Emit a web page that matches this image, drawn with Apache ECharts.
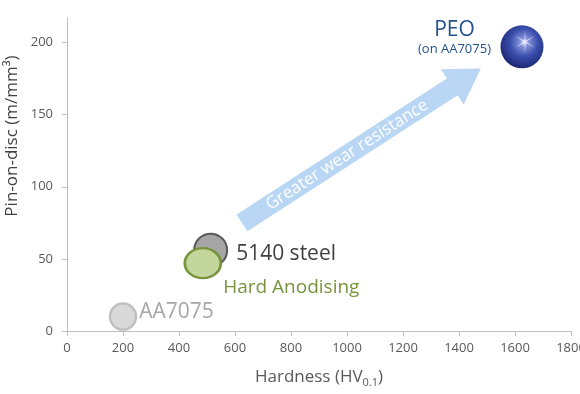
<!DOCTYPE html>
<html>
<head>
<meta charset="utf-8">
<script src="https://cdn.jsdelivr.net/npm/echarts@6/dist/echarts.min.js"></script>
<style>html,body{margin:0;padding:0;background:#fff}#chart{width:580px;height:394px}</style>
</head>
<body>
<div id="chart"></div>
<script>
// ---- data ----
const materials = ['AA7075', '5140 steel', 'Hard Anodising', 'PEO'];
const hardnessHV = [200, 513, 485, 1625];
const wearPinOnDisc = [10, 56, 47, 197];
const peoSubstrate = '(on AA7075)';
const yTickValues = [0, 50, 100, 150, 200];
const xAxisMin = 0, xAxisMax = 1800, xAxisStep = 200;
const yAxisMax = 217;
const arrowFrom = [625, 75];
const arrowTo = [1478, 182];
const arrowLabel = 'Greater wear resistance';
const xTitle = 'Hardness (HV{sub|0.1})';
const yTitle = 'Pin-on-disc (m/mm³)';

// ---- styles ----
const FONT = 'Open Sans';
const starPath = 'path://M0,-10 L-0.6,-1.04 L-8.66,-5 L-1.2,0 L-8.66,5 L-0.6,1.04 L0,10 L0.6,1.04 L8.66,5 L1.2,0 L8.66,-5 L0.6,-1.04 Z';
const styles = [
  {size: 26, itemStyle: {color: '#d9d9d9', borderColor: '#bfbfbf', borderWidth: 2.5},
   label: {position: 'right', distance: 2, offset: [0, -5], color: '#a6a6a6', fontSize: 21}},
  {size: 33, itemStyle: {color: '#a5a5a5', borderColor: '#595959', borderWidth: 2},
   label: {position: 'right', distance: 8, offset: [0, 4], color: '#404040', fontSize: 21}},
  {size: [36, 30], itemStyle: {color: '#c3d69b', borderColor: '#77933c', borderWidth: 2.5},
   label: {position: 'right', distance: 1, offset: [0, 24], color: '#77933c', fontSize: 19}},
  {size: 43, itemStyle: {color: {type: 'radial', x: 0.55, y: 0.4, r: 0.65, colorStops: [
      {offset: 0, color: '#dfe4ff'}, {offset: 0.15, color: '#8593da'}, {offset: 0.5, color: '#3a4eac'}, {offset: 1, color: '#17216a'}]}},
   label: {position: 'left', distance: 6, offset: [0, -9],
     formatter: '{a|{b}}\n{c|' + peoSubstrate + '}',
     rich: {a: {fontSize: 21, color: '#25528f', width: 80, align: 'center', lineHeight: 22, fontFamily: FONT},
            c: {fontSize: 13, color: '#25528f', width: 80, align: 'center', lineHeight: 16, fontFamily: FONT}}}}
];

const series = materials.map((name, i) => {
  const st = styles[i];
  return {
    type: 'scatter', name: name, silent: true, z: 3 + i,
    symbol: 'circle', symbolSize: st.size,
    itemStyle: Object.assign({opacity: 1}, st.itemStyle),
    label: Object.assign({show: true, formatter: '{b}', fontFamily: FONT}, st.label),
    data: [{name: name, value: [hardnessHV[i], wearPinOnDisc[i]]}]
  };
});

// star highlight on the PEO marker
series.push({
  type: 'scatter', silent: true, z: 10, symbol: starPath, symbolSize: [20, 24], symbolOffset: [3, -5],
  itemStyle: {color: 'rgba(255,255,255,0.6)', opacity: 1},
  data: [[hardnessHV[3], wearPinOnDisc[3]]]
});

// wide arrow annotation
series.push({
  type: 'custom', silent: true, z: 1, clip: false,
  data: [[arrowFrom[0], arrowFrom[1], arrowTo[0], arrowTo[1]]],
  renderItem: function (params, api) {
    const p0 = api.coord([api.value(0), api.value(1)]);
    const p1 = api.coord([api.value(2), api.value(3)]);
    const dx = p1[0] - p0[0], dy = p1[1] - p0[1];
    const len = Math.sqrt(dx * dx + dy * dy);
    const ux = dx / len, uy = dy / len;
    const nx = -uy, ny = ux;
    const w = 10, h = 21, L = 34;
    const bx = p1[0] - ux * L, by = p1[1] - uy * L;
    const pts = [
      [p0[0] + nx * w, p0[1] + ny * w],
      [bx + nx * w, by + ny * w],
      [bx + nx * h, by + ny * h],
      [p1[0], p1[1]],
      [bx - nx * h, by - ny * h],
      [bx - nx * w, by - ny * w],
      [p0[0] - nx * w, p0[1] - ny * w]
    ];
    const mx = (p0[0] + bx) / 2, my = (p0[1] + by) / 2;
    return {
      type: 'group',
      children: [
        {type: 'polygon', shape: {points: pts}, style: {fill: '#b9d7f5'}},
        {type: 'text', x: mx, y: my, rotation: Math.atan2(-dy, dx),
         style: {text: arrowLabel, fill: '#ffffff', fontSize: 17, fontFamily: FONT, align: 'center', verticalAlign: 'middle'}}
      ]
    };
  }
});

const plain = v => String(v);
const chart = echarts.init(document.getElementById('chart'), null, {renderer: 'canvas'});
chart.setOption({
  animation: false,
  backgroundColor: '#ffffff',
  textStyle: {fontFamily: FONT},
  grid: {left: 67, right: 9, top: 18, bottom: 63, containLabel: false, outerBoundsMode: 'none'},
  xAxis: {
    type: 'value', min: xAxisMin, max: xAxisMax, interval: xAxisStep,
    name: xTitle, nameLocation: 'middle', nameGap: 36,
    nameTextStyle: {fontSize: 17, color: '#595959', fontFamily: FONT,
      rich: {sub: {fontSize: 11, color: '#595959', fontFamily: FONT, verticalAlign: 'bottom', padding: [10, 0, 0, 0]}}},
    splitLine: {show: false},
    axisLine: {lineStyle: {color: '#bfbfbf', width: 1}},
    axisTick: {show: true, length: 5, lineStyle: {color: '#bfbfbf'}},
    axisLabel: {color: '#595959', fontSize: 13, margin: 11, fontFamily: FONT, formatter: plain}
  },
  yAxis: {
    type: 'value', min: 0, max: yAxisMax, interval: 50,
    splitLine: {show: false},
    axisLine: {show: true, lineStyle: {color: '#bfbfbf', width: 1}},
    axisTick: {show: true, length: 5, lineStyle: {color: '#bfbfbf'}, customValues: yTickValues},
    axisLabel: {color: '#595959', fontSize: 13, margin: 14, fontFamily: FONT, customValues: yTickValues, formatter: plain}
  },
  graphic: [{
    type: 'text', x: 12, y: 136, rotation: Math.PI / 2,
    style: {text: yTitle, fontSize: 17, fill: '#404040', fontFamily: FONT, align: 'center', verticalAlign: 'middle'}
  }],
  series: series
});
</script>
</body>
</html>
